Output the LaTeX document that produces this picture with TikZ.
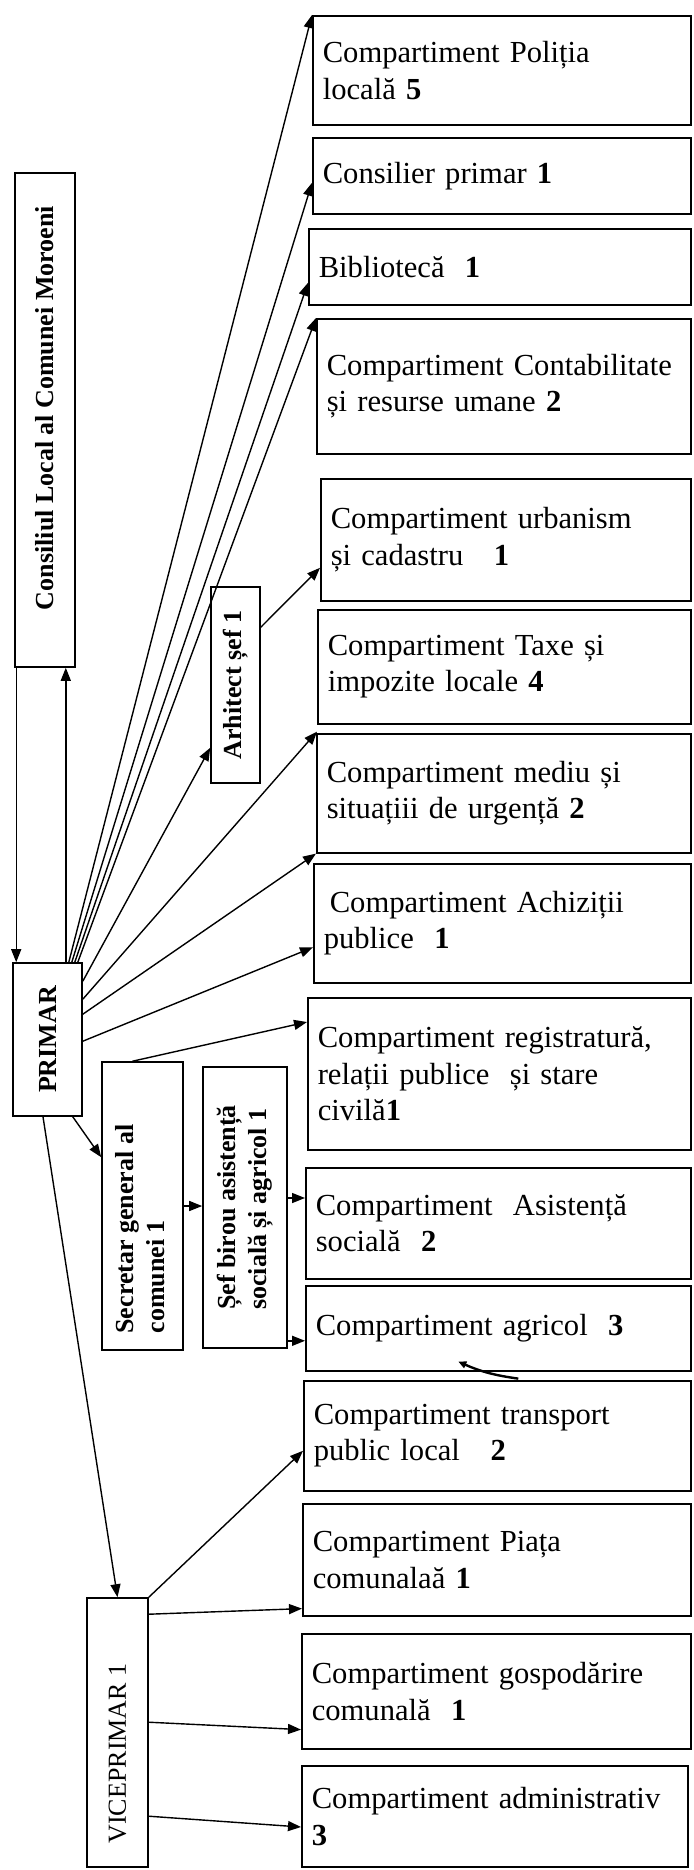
\documentclass[tikz,border=0pt]{standalone}
\usepackage{fontspec}
\setmainfont{Liberation Serif}
\usetikzlibrary{arrows.meta}

\begin{document}
\begin{tikzpicture}[
    x=0.5pt, y=-0.5pt,
    unit/.style={rectangle, draw, line width=0.8pt, anchor=north west, align=left, inner xsep=5pt, inner ysep=0pt, font=\fontsize{15.3}{18.3}\selectfont},
    vbox/.style={rectangle, draw, line width=0.8pt, inner sep=0pt, font=\fontsize{13}{15.5}\selectfont\bfseries},
    arrow/.style={-{Triangle[length=6.5pt, width=5pt]}, line width=0.7pt}
]
\useasboundingbox (0,0) rectangle (693,1870);

\node[vbox, minimum width=30pt, minimum height=247pt] (consiliu) at (45,420) {\rotatebox{90}{\hspace*{12pt}Consiliul Local al Comunei Moroeni}};
\node[vbox, minimum width=34.5pt, minimum height=76.5pt] (primar) at (47.5,1039.5) {\rotatebox{90}{PRIMAR}};
\node[vbox, minimum width=24.5pt, minimum height=98pt] (arhitect) at (235.5,685) {\rotatebox{90}{Arhitect șef 1}};
\node[vbox, minimum width=40.5pt, minimum height=144pt] (secretar) at (142.5,1206) {\rotatebox{90}{\begin{tabular}{@{}l@{\hspace{23pt}}}Secretar general al\\comunei 1\end{tabular}}};
\node[vbox, minimum width=42pt, minimum height=140.5pt] (sef_birou) at (245,1207.5) {\rotatebox{90}{\begin{tabular}{@{}l@{}}Șef birou asistență\\socială și agricol 1\end{tabular}}};
\node[vbox, minimum width=30.5pt, minimum height=134.5pt, font=\fontsize{13}{15.5}\selectfont] (viceprimar) at (117.5,1732.5) {\rotatebox{90}{VICEPRIMAR 1\hspace*{21pt}}};

\node[unit, text width=179pt, minimum height=54.5pt] (politia) at (312,15) {Compartiment Poliția\\locală \textbf{5}};
\node[unit, text width=179pt, minimum height=38pt] (consilier) at (312,137) {Consilier primar \textbf{1}};
\node[unit, text width=181pt, minimum height=38pt] (biblioteca) at (308,228) {Bibliotecă\ \ \textbf{1}};
\node[unit, text width=177pt, minimum height=67.5pt] (contab) at (316,318) {Compartiment Contabilitate\\și resurse umane \textbf{2}};
\node[unit, text width=175pt, minimum height=61pt] (urbanism) at (320,478) {Compartiment urbanism\\și cadastru\ \ \ \textbf{1}};
\node[unit, text width=176.5pt, minimum height=57pt] (taxe) at (317,609) {Compartiment Taxe și\\impozite locale \textbf{4}};
\node[unit, text width=177pt, minimum height=59.5pt] (mediu) at (316,733) {Compartiment mediu și\\situațiii de urgență \textbf{2}};
\node[unit, text width=178.5pt, minimum height=59.5pt] (achizitii) at (313,863) {\hspace*{3pt}Compartiment Achiziții\\publice\ \ \textbf{1}};
\node[unit, text width=181.5pt, minimum height=76pt] (registratura) at (307,997) {Compartiment registratură,\\relații publice\ \ și stare\\civilă\textbf{1}};
\node[unit, text width=182.5pt, minimum height=55.5pt] (asistenta) at (305,1167) {Compartiment\ \ Asistență\\socială\ \ \textbf{2}};
\node[unit, text width=182.5pt, minimum height=42.5pt] (agricol) at (305,1285) {Compartiment agricol\ \ \textbf{3}};
\node[unit, text width=183.5pt, minimum height=55pt] (transport) at (303,1380) {Compartiment transport\\public local\ \ \ \textbf{2}};
\node[unit, text width=184pt, minimum height=56pt] (piata) at (302,1503) {Compartiment Piața\\comunalaă \textbf{1}};
\node[unit, text width=184.5pt, minimum height=57.5pt] (gospodarire) at (301,1633) {Compartiment gospodărire\\comunală\ \ \textbf{1}};
\node[unit, text width=183pt, minimum height=50.5pt] (administrativ) at (301,1765) {Compartiment administrativ\\\textbf{3}};

\draw[arrow] ([xshift=1pt]consiliu.south west) -- ([xshift=1pt]consiliu.south west |- primar.north);
\draw[arrow] ([xshift=-8.5pt]primar.north east) -- ([xshift=-8.5pt]primar.north east |- consiliu.south);
\draw[arrow] ([xshift=-7pt]primar.north east) -- (politia.north west);
\draw[arrow] ([xshift=-5.5pt]primar.north east) -- ([yshift=-3.5pt]consilier.west);
\draw[arrow] ([xshift=-4pt]primar.north east) -- ([yshift=-8pt]biblioteca.west);
\draw[arrow] ([xshift=-2.5pt]primar.north east) -- (contab.north west);
\draw[arrow] ([yshift=-9.5pt]primar.north east) -- ([yshift=18pt]arhitect.south west);
\draw[arrow] ([yshift=-20.5pt]arhitect.north east) -- ([yshift=-14pt]urbanism.west);
\draw[arrow] ([yshift=-18.5pt]primar.north east) -- ([yshift=-3.5pt]taxe.south west);
\draw[arrow] ([yshift=-26pt]primar.north east) -- (mediu.south west);
\draw[arrow] ([yshift=-39.5pt]primar.north east) -- ([yshift=-12pt]achizitii.west);
\draw[arrow] ([xshift=-5pt]secretar.north) -- ([yshift=-12.5pt]registratura.north west);
\draw[arrow] ([xshift=-5pt]primar.south east) -- ([yshift=-48pt]secretar.north west);
\draw[arrow] (secretar.east) -- (secretar.east -| sef_birou.west);
\draw[arrow] ([yshift=4.75pt]sef_birou.east) -- ([yshift=4.75pt]sef_birou.east -| asistenta.west);
\draw[arrow] ([yshift=4pt]sef_birou.south east) -- ([yshift=4pt]sef_birou.south east -| agricol.west);
\draw[arrow] ([xshift=-2.25pt]primar.south) -- (viceprimar.north);
\draw[arrow] (viceprimar.north east) -- ([yshift=-7.5pt]transport.west);
\draw[arrow] ([yshift=-8.5pt]viceprimar.north east) -- ([yshift=4pt]piata.south west);
\draw[arrow] ([yshift=-62.5pt]viceprimar.north east) -- ([yshift=10pt]gospodarire.south west);
\draw[arrow] ([yshift=-109.5pt]viceprimar.north east) -- ([yshift=-31pt]administrativ.north west);
\draw[-{Triangle[length=4pt, width=3.5pt]}, line width=1.2pt] ([xshift=10pt, yshift=-3.5pt]agricol.south) to[bend left=8] ([xshift=-20pt, yshift=5pt]agricol.south);

\end{tikzpicture}
\end{document}
